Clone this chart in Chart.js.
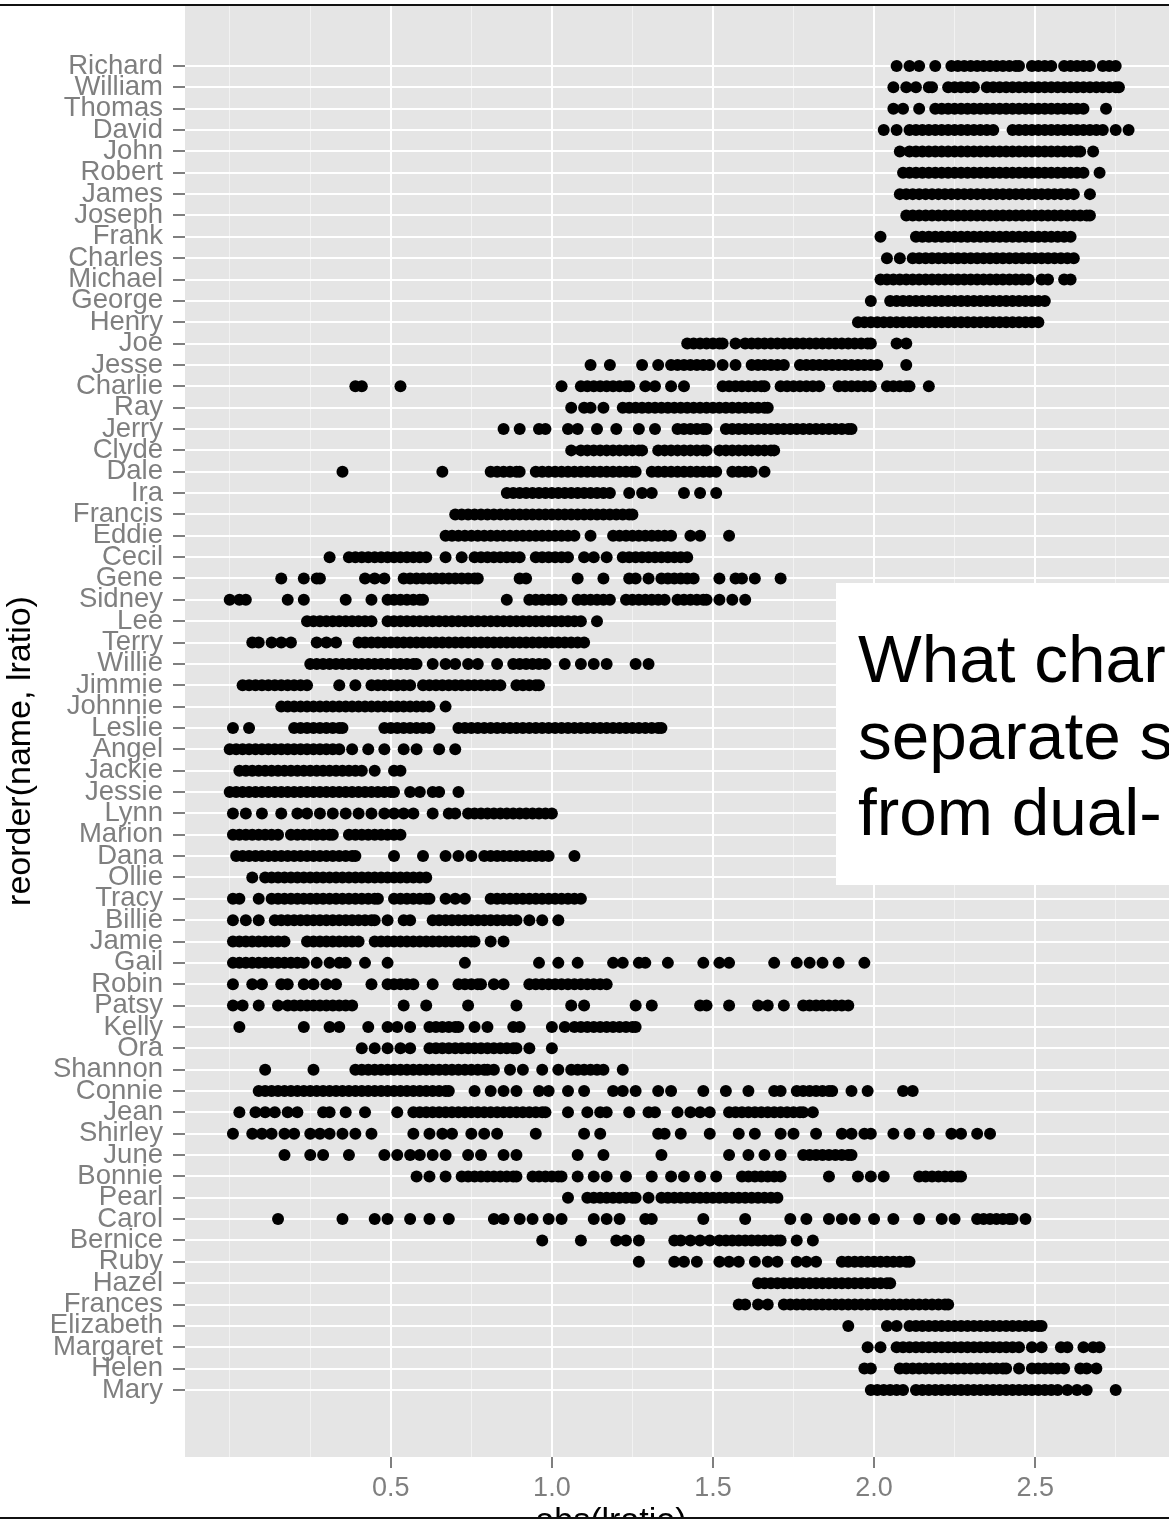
<!DOCTYPE html>
<html>
<head>
<meta charset="utf-8">
<script src="https://cdn.jsdelivr.net/npm/chart.js@4.4.1/dist/chart.umd.min.js"></script>
<style>
html,body{margin:0;padding:0;background:#fff;overflow:hidden;width:1169px;height:1523px;}
#wrap{position:absolute;left:0;top:0;width:1180px;height:1542px;}
#topline{position:absolute;left:0;top:4px;width:1169px;height:2px;background:#111;}
#botcover{position:absolute;left:0;top:1517px;width:1169px;height:12px;background:#fff;border-top:2px solid #111;}
#overlay{position:absolute;left:836px;top:583px;width:400px;height:302px;background:#fff;
  font-family:'Liberation Sans',Arial,Helvetica,sans-serif;font-size:67.5px;line-height:76.5px;color:#000;
  box-sizing:border-box;padding:38px 0 0 22px;white-space:nowrap;}
</style>
</head>
<body>
<div id="wrap"><canvas id="c" width="1180" height="1542"></canvas></div>
<div id="topline"></div>
<div id="botcover"></div>
<div id="overlay">What char<br>separate s<br>from dual-</div>
<script>
const names = ["Richard","William","Thomas","David","John","Robert","James","Joseph","Frank","Charles",
"Michael","George","Henry","Joe","Jesse","Charlie","Ray","Jerry","Clyde","Dale",
"Ira","Francis","Eddie","Cecil","Gene","Sidney","Lee","Terry","Willie","Jimmie",
"Johnnie","Leslie","Angel","Jackie","Jessie","Lynn","Marion","Dana","Ollie","Tracy",
"Billie","Jamie","Gail","Robin","Patsy","Kelly","Ora","Shannon","Connie","Jean",
"Shirley","June","Bonnie","Pearl","Carol","Bernice","Ruby","Hazel","Frances","Elizabeth",
"Margaret","Helen","Mary"];

const v_Richard = [2.07,2.11,2.14,2.19,2.24,2.26,2.28,2.30,2.32,2.34,2.36,2.38,2.40,2.42,2.44,2.45,2.49,2.51,2.53,2.55,2.59,2.61,2.63,2.65,2.67,2.71,2.73,2.75];
const v_William = [2.06,2.10,2.13,2.17,2.18,2.23,2.25,2.27,2.29,2.31,2.35,2.37,2.39,2.41,2.43,2.45,2.47,2.49,2.51,2.53,2.55,2.57,2.59,2.61,2.63,2.65,2.67,2.69,2.71,2.73,2.75,2.76];
const v_Thomas = [2.06,2.09,2.14,2.19,2.21,2.23,2.25,2.27,2.29,2.31,2.33,2.35,2.37,2.39,2.41,2.43,2.45,2.47,2.49,2.51,2.53,2.55,2.57,2.59,2.61,2.63,2.65,2.72];
const v_David = [2.03,2.07,2.11,2.13,2.15,2.17,2.19,2.21,2.23,2.25,2.27,2.29,2.31,2.33,2.35,2.37,2.43,2.45,2.47,2.49,2.51,2.53,2.55,2.57,2.59,2.61,2.63,2.65,2.67,2.69,2.71,2.75,2.79];
const v_John = [2.08,2.11,2.13,2.15,2.17,2.19,2.21,2.23,2.25,2.27,2.29,2.31,2.33,2.35,2.37,2.39,2.41,2.43,2.45,2.47,2.49,2.51,2.53,2.55,2.57,2.59,2.61,2.63,2.64,2.68];
const v_Robert = [2.09,2.11,2.13,2.15,2.17,2.19,2.21,2.23,2.25,2.27,2.29,2.31,2.33,2.35,2.37,2.39,2.41,2.43,2.45,2.47,2.49,2.51,2.53,2.55,2.57,2.59,2.61,2.63,2.65,2.70];
const v_James = [2.08,2.10,2.12,2.14,2.16,2.18,2.20,2.22,2.24,2.26,2.28,2.30,2.32,2.34,2.36,2.38,2.40,2.42,2.44,2.46,2.48,2.50,2.52,2.54,2.56,2.58,2.60,2.62,2.67];
const v_Joseph = [2.10,2.12,2.14,2.16,2.18,2.20,2.22,2.24,2.26,2.28,2.30,2.32,2.34,2.36,2.38,2.40,2.42,2.44,2.46,2.48,2.50,2.52,2.54,2.56,2.58,2.60,2.62,2.64,2.66,2.67];
const v_Frank = [2.02,2.13,2.15,2.17,2.19,2.21,2.23,2.25,2.27,2.29,2.31,2.33,2.35,2.37,2.39,2.41,2.43,2.45,2.47,2.49,2.51,2.53,2.55,2.57,2.59,2.61];
const v_Charles = [2.04,2.08,2.12,2.14,2.16,2.18,2.20,2.22,2.24,2.26,2.28,2.30,2.32,2.34,2.36,2.38,2.40,2.42,2.44,2.46,2.48,2.50,2.52,2.54,2.56,2.58,2.60,2.62];
const v_Michael = [2.02,2.04,2.06,2.08,2.10,2.12,2.14,2.16,2.18,2.20,2.22,2.24,2.26,2.28,2.30,2.32,2.34,2.36,2.38,2.40,2.42,2.44,2.46,2.48,2.52,2.54,2.59,2.61];
const v_George = [1.99,2.05,2.07,2.09,2.11,2.13,2.15,2.17,2.19,2.21,2.23,2.25,2.27,2.29,2.31,2.33,2.35,2.37,2.39,2.41,2.43,2.45,2.47,2.49,2.51,2.53];
const v_Henry = [1.95,1.97,1.99,2.01,2.03,2.05,2.07,2.09,2.11,2.13,2.15,2.17,2.19,2.21,2.23,2.25,2.27,2.29,2.31,2.33,2.35,2.37,2.39,2.41,2.43,2.45,2.47,2.49,2.51];
const v_Joe = [1.42,1.44,1.46,1.48,1.50,1.52,1.53,1.57,1.60,1.62,1.64,1.66,1.68,1.70,1.72,1.74,1.76,1.78,1.80,1.82,1.84,1.86,1.88,1.90,1.92,1.94,1.96,1.98,1.99,2.07,2.10];
const v_Jesse = [1.12,1.18,1.28,1.33,1.37,1.39,1.41,1.43,1.45,1.47,1.49,1.53,1.57,1.62,1.64,1.66,1.68,1.70,1.72,1.77,1.79,1.81,1.83,1.85,1.87,1.89,1.91,1.93,1.95,1.97,1.99,2.01,2.10];
const v_Charlie = [0.39,0.41,0.53,1.03,1.09,1.11,1.13,1.15,1.17,1.19,1.21,1.23,1.24,1.29,1.32,1.37,1.41,1.53,1.55,1.57,1.59,1.61,1.63,1.65,1.66,1.71,1.73,1.75,1.77,1.79,1.81,1.83,1.89,1.91,1.93,1.95,1.97,1.99,2.04,2.06,2.08,2.10,2.11,2.17];
const v_Ray = [1.06,1.10,1.12,1.16,1.22,1.24,1.26,1.28,1.30,1.32,1.34,1.36,1.38,1.40,1.42,1.44,1.46,1.48,1.50,1.52,1.54,1.56,1.58,1.60,1.62,1.64,1.66,1.67];
const v_Jerry = [0.85,0.90,0.96,0.98,1.05,1.08,1.14,1.20,1.27,1.32,1.39,1.41,1.43,1.45,1.47,1.48,1.54,1.56,1.58,1.60,1.62,1.64,1.66,1.68,1.70,1.72,1.74,1.76,1.78,1.80,1.82,1.84,1.86,1.88,1.90,1.92,1.93];
const v_Clyde = [1.06,1.09,1.11,1.13,1.15,1.17,1.19,1.21,1.23,1.25,1.27,1.28,1.33,1.35,1.37,1.39,1.41,1.43,1.45,1.47,1.48,1.52,1.54,1.56,1.58,1.60,1.62,1.64,1.66,1.68,1.69];
const v_Dale = [0.35,0.66,0.81,0.83,0.85,0.87,0.89,0.90,0.95,0.97,0.99,1.01,1.03,1.05,1.07,1.09,1.11,1.13,1.15,1.17,1.19,1.21,1.23,1.25,1.26,1.31,1.33,1.35,1.37,1.39,1.41,1.43,1.45,1.47,1.49,1.51,1.56,1.58,1.60,1.62,1.66];
const v_Ira = [0.86,0.88,0.90,0.92,0.94,0.96,0.98,1.00,1.02,1.04,1.06,1.08,1.10,1.12,1.14,1.16,1.18,1.24,1.28,1.31,1.41,1.46,1.51];
const v_Francis = [0.70,0.72,0.74,0.76,0.78,0.80,0.82,0.84,0.86,0.88,0.90,0.92,0.94,0.96,0.98,1.00,1.02,1.04,1.06,1.08,1.10,1.12,1.14,1.16,1.18,1.20,1.22,1.24,1.25];
const v_Eddie = [0.67,0.69,0.71,0.73,0.75,0.77,0.79,0.81,0.83,0.85,0.87,0.89,0.91,0.93,0.95,0.97,0.99,1.01,1.03,1.05,1.07,1.12,1.19,1.21,1.23,1.25,1.27,1.29,1.31,1.33,1.35,1.37,1.43,1.46,1.55];
const v_Cecil = [0.31,0.37,0.39,0.41,0.43,0.45,0.47,0.49,0.51,0.53,0.55,0.57,0.59,0.61,0.67,0.72,0.76,0.78,0.80,0.82,0.84,0.86,0.88,0.90,0.95,0.97,0.99,1.01,1.03,1.05,1.10,1.13,1.17,1.22,1.24,1.26,1.28,1.30,1.32,1.34,1.36,1.38,1.40,1.42];
const v_Gene = [0.16,0.23,0.27,0.28,0.42,0.45,0.48,0.54,0.56,0.58,0.60,0.62,0.64,0.66,0.68,0.70,0.72,0.74,0.76,0.77,0.90,0.92,1.08,1.16,1.24,1.26,1.30,1.34,1.36,1.38,1.40,1.42,1.44,1.52,1.57,1.59,1.63,1.71];
const v_Sidney = [0.00,0.03,0.05,0.18,0.23,0.36,0.44,0.49,0.51,0.53,0.55,0.57,0.59,0.60,0.86,0.93,0.95,0.97,0.99,1.01,1.03,1.08,1.10,1.12,1.14,1.16,1.18,1.23,1.25,1.27,1.29,1.31,1.33,1.35,1.39,1.41,1.43,1.45,1.47,1.48,1.52,1.56,1.60];
const v_Lee = [0.24,0.26,0.28,0.30,0.32,0.34,0.36,0.38,0.40,0.42,0.44,0.49,0.51,0.53,0.55,0.57,0.59,0.61,0.63,0.65,0.67,0.69,0.71,0.73,0.75,0.77,0.79,0.81,0.83,0.85,0.87,0.89,0.91,0.93,0.95,0.97,0.99,1.01,1.03,1.05,1.07,1.09,1.14];
const v_Terry = [0.07,0.09,0.13,0.16,0.19,0.27,0.30,0.33,0.40,0.42,0.44,0.46,0.48,0.50,0.52,0.54,0.56,0.58,0.60,0.62,0.64,0.66,0.68,0.70,0.72,0.74,0.76,0.78,0.80,0.82,0.84,0.86,0.88,0.90,0.92,0.94,0.96,0.98,1.00,1.02,1.04,1.06,1.08,1.10];
const v_Willie = [0.25,0.27,0.29,0.31,0.33,0.35,0.37,0.39,0.41,0.43,0.45,0.47,0.49,0.51,0.53,0.55,0.57,0.58,0.63,0.67,0.70,0.74,0.77,0.83,0.88,0.90,0.92,0.94,0.96,0.98,1.04,1.09,1.13,1.17,1.26,1.30];
const v_Jimmie = [0.04,0.06,0.08,0.10,0.12,0.14,0.16,0.18,0.20,0.22,0.24,0.34,0.39,0.44,0.46,0.48,0.50,0.52,0.54,0.56,0.60,0.62,0.64,0.66,0.68,0.70,0.72,0.74,0.76,0.78,0.80,0.82,0.84,0.89,0.91,0.93,0.95,0.96];
const v_Johnnie = [0.16,0.18,0.20,0.22,0.24,0.26,0.28,0.30,0.32,0.34,0.36,0.38,0.40,0.42,0.44,0.46,0.48,0.50,0.52,0.54,0.56,0.58,0.60,0.62,0.67];
const v_Leslie = [0.01,0.06,0.20,0.22,0.24,0.26,0.28,0.30,0.32,0.34,0.35,0.48,0.50,0.52,0.54,0.56,0.58,0.60,0.62,0.71,0.73,0.75,0.77,0.79,0.81,0.83,0.85,0.87,0.89,0.91,0.93,0.95,0.97,0.99,1.01,1.03,1.05,1.07,1.09,1.11,1.13,1.15,1.17,1.19,1.21,1.23,1.25,1.27,1.29,1.31,1.33,1.34];
const v_Angel = [0.00,0.02,0.04,0.06,0.08,0.10,0.12,0.14,0.16,0.18,0.20,0.22,0.24,0.26,0.28,0.30,0.32,0.34,0.38,0.43,0.48,0.54,0.58,0.65,0.70];
const v_Jackie = [0.03,0.05,0.07,0.09,0.11,0.13,0.15,0.17,0.19,0.21,0.23,0.25,0.27,0.29,0.31,0.33,0.35,0.37,0.39,0.41,0.45,0.51,0.53];
const v_Jessie = [0.00,0.02,0.04,0.06,0.08,0.10,0.12,0.14,0.16,0.18,0.20,0.22,0.24,0.26,0.28,0.30,0.32,0.34,0.36,0.38,0.40,0.42,0.44,0.46,0.48,0.50,0.51,0.56,0.59,0.63,0.65,0.71];
const v_Lynn = [0.01,0.05,0.10,0.16,0.21,0.24,0.28,0.32,0.36,0.40,0.44,0.48,0.51,0.54,0.57,0.63,0.68,0.70,0.74,0.76,0.78,0.80,0.82,0.84,0.86,0.88,0.90,0.92,0.94,0.96,0.98,1.00];
const v_Marion = [0.01,0.03,0.05,0.07,0.09,0.11,0.13,0.15,0.19,0.21,0.23,0.25,0.27,0.29,0.31,0.32,0.37,0.39,0.41,0.43,0.45,0.47,0.49,0.51,0.53];
const v_Dana = [0.02,0.04,0.06,0.08,0.10,0.12,0.14,0.16,0.18,0.20,0.22,0.24,0.26,0.28,0.30,0.32,0.34,0.36,0.38,0.39,0.51,0.60,0.67,0.71,0.75,0.79,0.81,0.83,0.85,0.87,0.89,0.91,0.93,0.95,0.97,0.99,1.07];
const v_Ollie = [0.07,0.11,0.13,0.15,0.17,0.19,0.21,0.23,0.25,0.27,0.29,0.31,0.33,0.35,0.37,0.39,0.41,0.43,0.45,0.47,0.49,0.51,0.53,0.55,0.57,0.59,0.61];
const v_Tracy = [0.01,0.03,0.09,0.13,0.15,0.17,0.19,0.21,0.23,0.25,0.27,0.29,0.31,0.33,0.35,0.37,0.39,0.41,0.43,0.45,0.46,0.51,0.53,0.55,0.57,0.59,0.61,0.62,0.67,0.70,0.73,0.81,0.83,0.85,0.87,0.89,0.91,0.93,0.95,0.97,0.99,1.01,1.03,1.05,1.07,1.09];
const v_Billie = [0.01,0.05,0.09,0.14,0.16,0.18,0.20,0.22,0.24,0.26,0.28,0.30,0.32,0.34,0.36,0.38,0.40,0.42,0.44,0.45,0.49,0.54,0.56,0.63,0.65,0.67,0.69,0.71,0.73,0.75,0.77,0.79,0.81,0.83,0.85,0.87,0.89,0.93,0.97,1.02];
const v_Jamie = [0.01,0.03,0.05,0.07,0.09,0.11,0.13,0.15,0.17,0.24,0.26,0.28,0.30,0.32,0.34,0.36,0.38,0.40,0.45,0.47,0.49,0.51,0.53,0.55,0.57,0.59,0.61,0.63,0.65,0.67,0.69,0.71,0.73,0.75,0.76,0.81,0.85];
const v_Gail = [0.01,0.03,0.05,0.07,0.09,0.11,0.13,0.15,0.17,0.19,0.21,0.23,0.27,0.31,0.34,0.36,0.42,0.49,0.73,0.96,1.02,1.08,1.19,1.22,1.27,1.29,1.36,1.47,1.52,1.55,1.69,1.76,1.80,1.84,1.89,1.97];
const v_Robin = [0.01,0.07,0.10,0.16,0.18,0.23,0.26,0.30,0.33,0.44,0.49,0.51,0.53,0.55,0.57,0.63,0.71,0.73,0.75,0.77,0.78,0.82,0.85,0.93,0.95,0.97,0.99,1.01,1.03,1.05,1.07,1.09,1.11,1.13,1.15,1.17];
const v_Patsy = [0.01,0.04,0.09,0.15,0.18,0.20,0.22,0.24,0.26,0.28,0.30,0.32,0.34,0.36,0.38,0.54,0.61,0.74,0.89,1.06,1.10,1.26,1.31,1.46,1.48,1.55,1.64,1.67,1.72,1.78,1.80,1.82,1.84,1.86,1.88,1.90,1.92];
const v_Kelly = [0.03,0.23,0.31,0.34,0.43,0.49,0.52,0.56,0.62,0.64,0.66,0.68,0.70,0.71,0.76,0.80,0.88,0.90,1.00,1.04,1.07,1.09,1.11,1.13,1.15,1.17,1.19,1.21,1.23,1.25,1.26];
const v_Ora = [0.41,0.45,0.49,0.53,0.56,0.62,0.64,0.66,0.68,0.70,0.72,0.74,0.76,0.78,0.80,0.82,0.84,0.86,0.88,0.89,0.93,1.00];
const v_Shannon = [0.11,0.26,0.39,0.41,0.43,0.45,0.47,0.49,0.51,0.53,0.55,0.57,0.59,0.61,0.63,0.65,0.67,0.69,0.71,0.73,0.75,0.77,0.79,0.80,0.82,0.87,0.91,0.97,1.02,1.06,1.08,1.10,1.12,1.14,1.16,1.22];
const v_Connie = [0.09,0.11,0.13,0.15,0.17,0.19,0.21,0.23,0.25,0.27,0.29,0.31,0.33,0.35,0.37,0.39,0.41,0.43,0.45,0.47,0.49,0.51,0.53,0.55,0.57,0.59,0.61,0.63,0.65,0.67,0.68,0.76,0.81,0.85,0.89,0.96,0.99,1.05,1.10,1.19,1.22,1.26,1.33,1.37,1.47,1.54,1.61,1.69,1.71,1.76,1.78,1.80,1.82,1.84,1.86,1.87,1.93,1.98,2.09,2.12];
const v_Jean = [0.03,0.08,0.11,0.14,0.18,0.21,0.29,0.31,0.36,0.42,0.52,0.57,0.59,0.61,0.63,0.65,0.67,0.69,0.71,0.73,0.75,0.77,0.79,0.81,0.83,0.85,0.87,0.89,0.91,0.93,0.95,0.97,0.98,1.05,1.11,1.15,1.17,1.24,1.30,1.32,1.39,1.43,1.46,1.49,1.55,1.57,1.59,1.61,1.63,1.65,1.67,1.69,1.71,1.73,1.75,1.77,1.78,1.81];
const v_Shirley = [0.01,0.07,0.10,0.13,0.17,0.20,0.25,0.28,0.31,0.35,0.39,0.44,0.57,0.62,0.66,0.69,0.75,0.79,0.83,0.95,1.10,1.15,1.33,1.35,1.40,1.49,1.58,1.63,1.71,1.75,1.82,1.90,1.93,1.97,1.99,2.06,2.11,2.17,2.24,2.27,2.32,2.36];
const v_June = [0.17,0.25,0.29,0.37,0.48,0.52,0.56,0.59,0.63,0.67,0.74,0.78,0.85,0.89,1.08,1.16,1.34,1.55,1.61,1.66,1.71,1.78,1.80,1.82,1.84,1.86,1.88,1.90,1.92,1.93];
const v_Bonnie = [0.58,0.62,0.67,0.72,0.74,0.76,0.78,0.80,0.82,0.84,0.86,0.88,0.89,0.94,0.96,0.98,1.00,1.02,1.03,1.08,1.13,1.17,1.23,1.31,1.37,1.41,1.46,1.51,1.59,1.61,1.63,1.65,1.67,1.69,1.71,1.86,1.95,1.99,2.03,2.14,2.16,2.18,2.20,2.22,2.24,2.26,2.27];
const v_Pearl = [1.05,1.11,1.13,1.15,1.17,1.19,1.21,1.23,1.25,1.26,1.30,1.34,1.36,1.38,1.40,1.42,1.44,1.46,1.48,1.50,1.52,1.54,1.56,1.58,1.60,1.62,1.64,1.66,1.68,1.70];
const v_Carol = [0.15,0.35,0.45,0.49,0.56,0.62,0.68,0.82,0.85,0.90,0.94,0.99,1.03,1.13,1.17,1.21,1.29,1.31,1.47,1.60,1.74,1.79,1.86,1.90,1.94,2.00,2.06,2.14,2.21,2.25,2.32,2.34,2.36,2.38,2.40,2.42,2.43,2.47];
const v_Bernice = [0.97,1.09,1.20,1.23,1.27,1.38,1.40,1.43,1.46,1.49,1.52,1.54,1.56,1.58,1.60,1.62,1.64,1.66,1.68,1.70,1.71,1.76,1.81];
const v_Ruby = [1.27,1.38,1.41,1.45,1.52,1.55,1.58,1.63,1.67,1.70,1.76,1.79,1.82,1.90,1.92,1.94,1.96,1.98,2.00,2.02,2.04,2.06,2.08,2.10,2.11];
const v_Hazel = [1.64,1.66,1.68,1.70,1.72,1.74,1.76,1.78,1.80,1.82,1.84,1.86,1.88,1.90,1.92,1.94,1.96,1.98,2.00,2.02,2.04,2.05];
const v_Frances = [1.58,1.60,1.64,1.67,1.72,1.74,1.76,1.78,1.80,1.82,1.84,1.86,1.88,1.90,1.92,1.94,1.96,1.98,2.00,2.02,2.04,2.06,2.08,2.10,2.12,2.14,2.16,2.18,2.20,2.22,2.23];
const v_Elizabeth = [1.92,2.04,2.07,2.11,2.13,2.15,2.17,2.19,2.21,2.23,2.25,2.27,2.29,2.31,2.33,2.35,2.37,2.39,2.41,2.43,2.45,2.47,2.49,2.51,2.52];
const v_Margaret = [1.98,2.02,2.07,2.09,2.11,2.13,2.15,2.17,2.19,2.21,2.23,2.25,2.27,2.29,2.31,2.33,2.35,2.37,2.39,2.41,2.43,2.45,2.49,2.52,2.58,2.60,2.65,2.68,2.70];
const v_Helen = [1.97,1.99,2.08,2.10,2.12,2.14,2.16,2.18,2.20,2.22,2.24,2.26,2.28,2.30,2.32,2.34,2.36,2.38,2.40,2.41,2.45,2.49,2.51,2.53,2.55,2.57,2.59,2.64,2.66,2.69];
const v_Mary = [1.99,2.01,2.03,2.05,2.07,2.09,2.13,2.15,2.17,2.19,2.21,2.23,2.25,2.27,2.29,2.31,2.33,2.35,2.37,2.39,2.41,2.43,2.45,2.47,2.49,2.51,2.53,2.55,2.57,2.60,2.63,2.66,2.75];

const seriesValues = [v_Richard,v_William,v_Thomas,v_David,v_John,v_Robert,v_James,v_Joseph,v_Frank,v_Charles,
v_Michael,v_George,v_Henry,v_Joe,v_Jesse,v_Charlie,v_Ray,v_Jerry,v_Clyde,v_Dale,
v_Ira,v_Francis,v_Eddie,v_Cecil,v_Gene,v_Sidney,v_Lee,v_Terry,v_Willie,v_Jimmie,
v_Johnnie,v_Leslie,v_Angel,v_Jackie,v_Jessie,v_Lynn,v_Marion,v_Dana,v_Ollie,v_Tracy,
v_Billie,v_Jamie,v_Gail,v_Robin,v_Patsy,v_Kelly,v_Ora,v_Shannon,v_Connie,v_Jean,
v_Shirley,v_June,v_Bonnie,v_Pearl,v_Carol,v_Bernice,v_Ruby,v_Hazel,v_Frances,v_Elizabeth,
v_Margaret,v_Helen,v_Mary];

const xMajorTicks = [0.5, 1.0, 1.5, 2.0, 2.5];
const xMinorTicks = [0, 0.25, 0.75, 1.25, 1.75, 2.25, 2.75];
const xTickLabels = ["0.5", "1.0", "1.5", "2.0", "2.5"];
const xTitle = "abs(lratio)";
const yTitle = "reorder(name, lratio)";

const points = [];
seriesValues.forEach((arr, i) => arr.forEach(v => points.push({x: v, y: i})));

const FONT = "'Liberation Sans', Arial, Helvetica, sans-serif";
Chart.defaults.font.family = FONT;

const panelBg = {
  id: 'panelBg',
  beforeDraw(chart) {
    const {ctx, chartArea: a} = chart;
    ctx.save();
    ctx.fillStyle = '#E5E5E5';
    ctx.fillRect(a.left, a.top, a.right - a.left, a.bottom - a.top);
    ctx.restore();
  }
};

const axisTitles = {
  id: 'axisTitles',
  afterDraw(chart) {
    const ctx = chart.ctx;
    ctx.save();
    ctx.fillStyle = '#000';
    ctx.font = "34px " + FONT;
    ctx.textAlign = 'center';
    ctx.textBaseline = 'middle';
    ctx.fillText(xTitle, 611, 1522);
    ctx.translate(21, 751);
    ctx.rotate(-Math.PI / 2);
    ctx.fillText(yTitle, 0, 0);
    ctx.restore();
  }
};

const isMajor = (c) => c.tick && xMajorTicks.includes(c.tick.value);

new Chart(document.getElementById('c'), {
  type: 'scatter',
  data: {
    datasets: [{
      data: points,
      pointRadius: 6,
      pointHoverRadius: 6,
      pointBackgroundColor: '#000',
      pointBorderColor: '#000',
      pointBorderWidth: 0
    }]
  },
  options: {
    responsive: false,
    animation: false,
    devicePixelRatio: 1,
    events: [],
    layout: {padding: {left: 0, right: 5, top: 6, bottom: 0}},
    plugins: {legend: {display: false}, tooltip: {enabled: false}},
    scales: {
      x: {
        type: 'linear',
        position: 'bottom',
        min: -0.1388,
        max: 2.931,
        afterBuildTicks(s) {
          s.ticks = [...xMinorTicks, ...xMajorTicks].sort((a, b) => a - b).map(v => ({value: v}));
        },
        afterFit(s) { s.height = 85; s.paddingLeft = 0; s.paddingRight = 0; },
        ticks: {
          autoSkip: false, maxRotation: 0, minRotation: 0,
          color: '#7F7F7F', font: {size: 27}, padding: 4,
          callback: (v) => { const k = xMajorTicks.indexOf(v); return k >= 0 ? xTickLabels[k] : ''; }
        },
        grid: {
          color: (c) => isMajor(c) ? '#FFFFFF' : '#F2F2F2',
          lineWidth: (c) => isMajor(c) ? 2 : 1,
          tickColor: (c) => isMajor(c) ? '#7F7F7F' : 'rgba(0,0,0,0)',
          tickLength: 11,
          tickWidth: 2
        },
        border: {display: false},
        title: {display: false}
      },
      y: {
        type: 'linear',
        reverse: true,
        min: -2.81,
        max: 65.14,
        afterBuildTicks(s) { s.ticks = names.map((n, i) => ({value: i})); },
        afterFit(s) { s.width = 185; s.paddingTop = 0; s.paddingBottom = 0; },
        ticks: {
          autoSkip: false, color: '#7F7F7F', font: {size: 27.5}, padding: 10,
          callback: (v) => names[v]
        },
        grid: {color: '#FFFFFF', lineWidth: 2, tickColor: '#7F7F7F', tickLength: 12, tickWidth: 2},
        border: {display: false},
        title: {display: false}
      }
    }
  },
  plugins: [panelBg, axisTitles]
});
</script>
</body>
</html>
